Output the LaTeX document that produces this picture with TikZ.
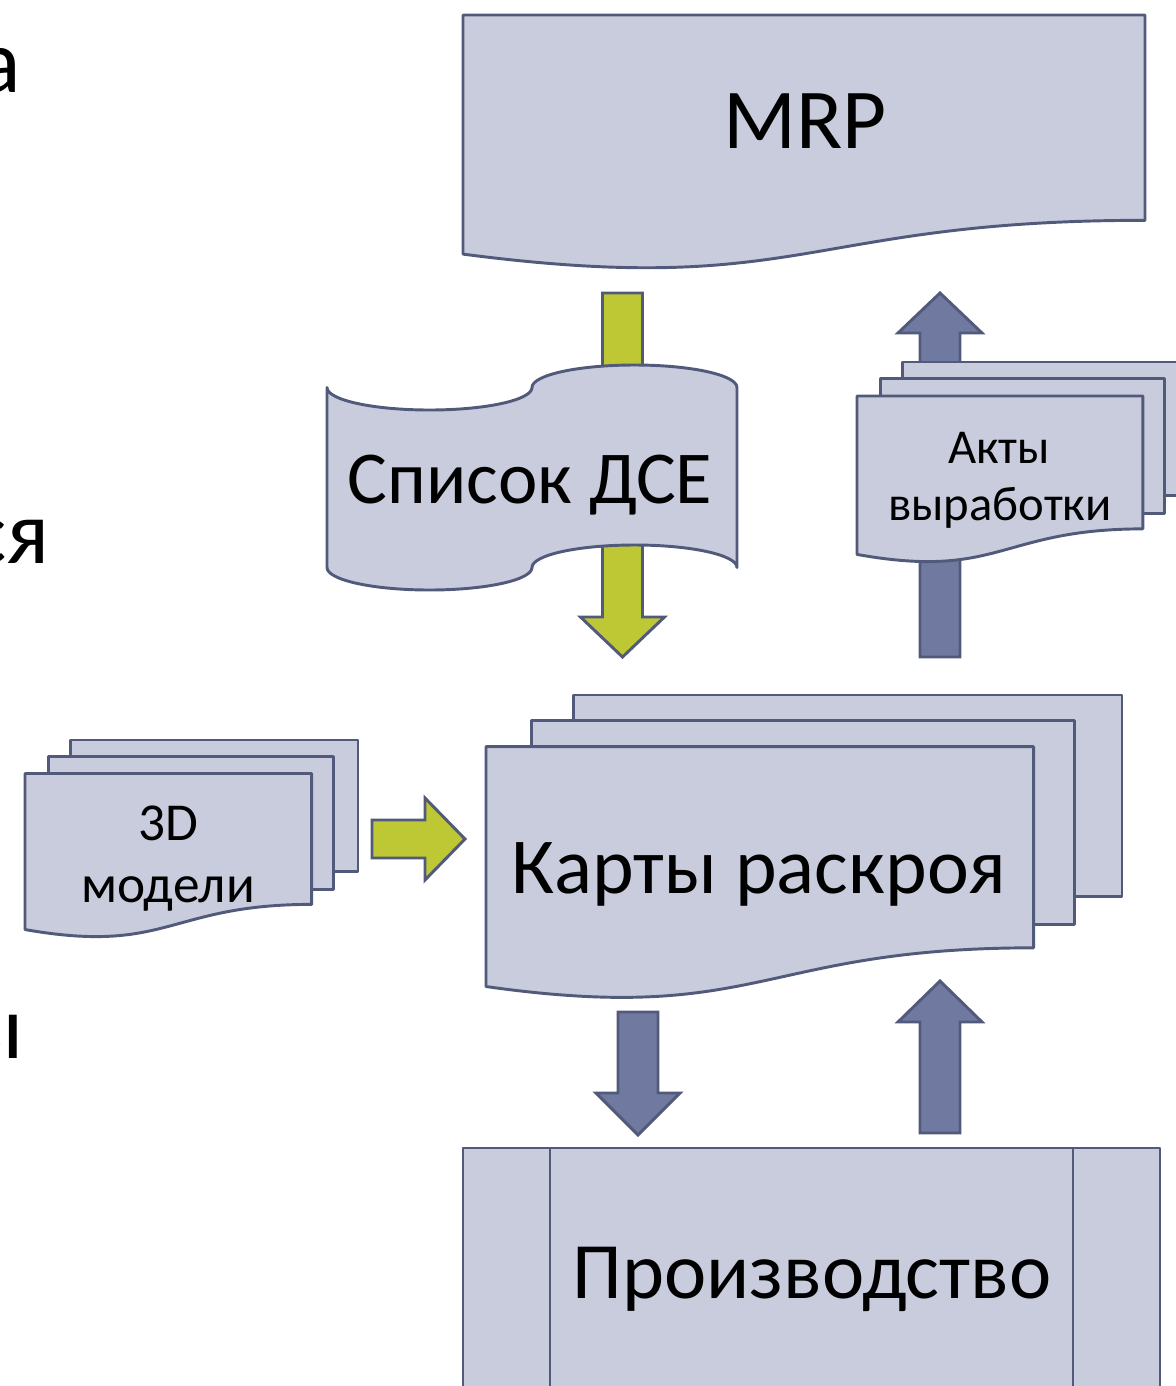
\documentclass[tikz,border=0pt]{standalone}
\usepackage{fontspec}
\setmainfont{Carlito}

\definecolor{shapefill}{RGB}{200,204,220}
\definecolor{shapeline}{RGB}{82,90,124}
\definecolor{arrowblue}{RGB}{112,122,160}
\definecolor{arrowgreen}{RGB}{190,200,52}

\tikzset{every picture/.style={line width=0.75pt},
  sheet/.style={draw=shapeline, fill=shapefill, line width=2.2pt, line join=round},
  blockarrow/.style={draw=shapeline, line width=2.2pt, line join=miter},
  lbl/.style={inner sep=0pt, text=black}}

% document shape: x, y, w, h
\newcommand{\docsheet}[4]{%
  \draw[sheet] (#1,#2) -- ({#1+#3},#2) -- ({#1+#3},{#2+0.802*#4})
    .. controls ({#1+0.5*#3},{#2+0.802*#4}) and ({#1+0.5*#3},{#2+1.1075*#4}) .. (#1,{#2+0.934*#4}) -- cycle;}

% multi-document shape: x, y, w, h
\newcommand{\multisheet}[4]{%
  \draw[sheet] ({#1+0.1376*#3},#2) rectangle ({#1+#3},{#2+0.6663*#4});
  \draw[sheet] ({#1+0.0709*#3},{#2+0.0840*#4}) rectangle ({#1+0.9259*#3},{#2+0.7570*#4});
  \draw[sheet] (#1,{#2+0.1701*#4}) -- ({#1+0.8609*#3},{#2+0.1701*#4}) -- ({#1+0.8609*#3},{#2+0.8344*#4})
    .. controls ({#1+0.4305*#3},{#2+0.8344*#4}) and ({#1+0.4305*#3},{#2+1.0899*#4}) .. (#1,{#2+0.9621*#4}) -- cycle;}

% vertical block arrow: centre x, tail y, tip y, head base y, fill
\newcommand{\vblock}[5]{%
  \draw[blockarrow, fill=#5] ({#1-20},#2) -- ({#1+20},#2) -- ({#1+20},#4) -- ({#1+42},#4)
    -- (#1,#3) -- ({#1-42},#4) -- ({#1-20},#4) -- cycle;}

\begin{document}
\begin{tikzpicture}[x=0.75pt,y=0.75pt,yscale=-1,xscale=1]
\useasboundingbox (0,0) rectangle (1176,1386);
\clip (0,0) rectangle (1176,1386);

%Block arrows behind the shapes
\vblock{622.5}{293}{657}{617}{arrowgreen}
\vblock{940}{657}{293}{333}{arrowblue}

%Shape: Document [MRP]
\docsheet{463}{15}{682}{256}

%Shape: Punched tape [DSE list]
\draw[sheet] (327,387.5) arc[start angle=180, end angle=0, x radius=102.5, y radius=22.5]
  arc[start angle=180, end angle=360, x radius=102.5, y radius=22.5]
  -- (737,567.5) arc[start angle=0, end angle=-180, x radius=102.5, y radius=22.5]
  arc[start angle=0, end angle=180, x radius=102.5, y radius=22.5] -- cycle;

%Shape: Multidocument [acts]
\multisheet{857}{362}{332}{200}

%Shape: Multidocument [3D models]
\multisheet{25}{740}{333}{197}

%Shape: Multidocument [cutting maps]
\multisheet{486}{695}{636}{303}

%Block arrow: right
\draw[blockarrow, fill=arrowgreen] (372,820) -- (425,820) -- (425,798) -- (465,839)
  -- (425,880) -- (425,858) -- (372,858) -- cycle;

%Block arrows: maps <-> production
\vblock{638}{1012}{1135}{1093}{arrowblue}
\vblock{940}{1133}{981}{1022}{arrowblue}

%Shape: Predefined process [production]
\draw[sheet] (463,1148) rectangle (1160,1400);
\draw[sheet] (550,1148) -- (550,1400);
\draw[sheet] (1073,1148) -- (1073,1400);

% Text Node
\node[lbl, anchor=base, font=\fontsize{64}{64}\selectfont] (mrp) at (805,148) {MRP};
% Text Node
\node[lbl, anchor=base, font=\fontsize{56}{56}\selectfont] (dse) at (530,503) {Список ДСЕ};
% Text Node
\node[lbl, anchor=base, font=\fontsize{36.5}{36.5}\selectfont] (akty) at (999,463) {Акты};
\node[lbl, anchor=base, font=\fontsize{36.5}{36.5}\selectfont] (vyrab) at (1000,520) {выработки};
% Text Node
\node[lbl, anchor=base, font=\fontsize{40}{40}\selectfont] (three) at (168,840) {3D};
\node[lbl, anchor=base, font=\fontsize{40}{40}\selectfont] (model) at (168,902) {модели};
% Text Node
\node[lbl, anchor=base, font=\fontsize{59.5}{59.5}\selectfont] (karty) at (759,893) {Карты раскроя};
% Text Node
\node[lbl, anchor=base, font=\fontsize{60}{60}\selectfont] (proizv) at (812,1298) {Производство};

% Text Node: cut-off slide text at the left edge
\node[lbl, anchor=base east, font=\fontsize{68}{68}\selectfont] (fra) at (21,92) {а};
\node[lbl, anchor=base east, font=\fontsize{68}{68}\selectfont] (frb) at (50,563) {ся};
\node[lbl, anchor=base east, font=\fontsize{68}{68}\selectfont] (frc) at (24,1058) {ы};

\end{tikzpicture}
\end{document}
